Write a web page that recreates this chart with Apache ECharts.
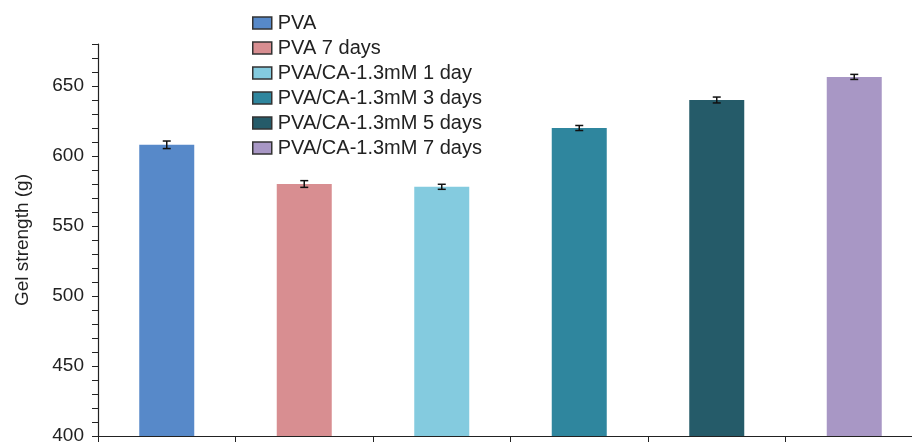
<!DOCTYPE html>
<html>
<head>
<meta charset="utf-8">
<script src="https://cdn.jsdelivr.net/npm/echarts@6/dist/echarts.min.js"></script>
<style>
  html, body { margin: 0; padding: 0; background: #fff; }
  #chart { width: 912px; height: 444px; }
</style>
</head>
<body>
<div id="chart"></div>
<script>
// 数据
var groups = ['PVA', 'PVA 7 days', 'PVA/CA-1.3mM 1 day', 'PVA/CA-1.3mM 3 days', 'PVA/CA-1.3mM 5 days', 'PVA/CA-1.3mM 7 days'];
var strength = [608, 580, 578, 620, 640, 656.5];
var errors = [2.7, 2.4, 1.8, 1.8, 2.1, 1.8];
var colors = ['#5789C9', '#D88E91', '#84CBDF', '#2F869E', '#255B69', '#A897C5'];

var chart = echarts.init(document.getElementById('chart'));

// 每组一个系列，这样图例才有六项
var series = groups.map(function (name, i) {
    return {
        name: name,
        type: 'bar',
        barWidth: 55,
        barGap: '-100%',
        itemStyle: { color: colors[i] },
        data: groups.map(function (g, j) { return j === i ? strength[i] : null; })
    };
});

// 误差线
series.push({
    type: 'custom',
    name: 'err',
    z: 10,
    data: strength.map(function (v, i) { return [i, v - errors[i], v + errors[i]]; }),
    renderItem: function (params, api) {
        var lo = api.coord([api.value(0), api.value(1)]);
        var hi = api.coord([api.value(0), api.value(2)]);
        var hw = 4;
        var st = { stroke: '#111', lineWidth: 1.5 };
        return {
            type: 'group',
            children: [
                { type: 'line', shape: { x1: lo[0], y1: lo[1], x2: hi[0], y2: hi[1] }, style: st },
                { type: 'line', shape: { x1: lo[0] - hw, y1: lo[1], x2: lo[0] + hw, y2: lo[1] }, style: st },
                { type: 'line', shape: { x1: hi[0] - hw, y1: hi[1], x2: hi[0] + hw, y2: hi[1] }, style: st }
            ]
        };
    }
});

var option = {
    animation: false,
    backgroundColor: '#fff',
    textStyle: { fontFamily: 'Liberation Sans, Arial, sans-serif' },
    legend: {
        data: groups,
        orient: 'vertical',
        left: 247,
        top: 8,
        itemWidth: 19,
        itemHeight: 12,
        itemGap: 5,
        icon: 'rect',
        itemStyle: { borderColor: '#333', borderWidth: 1.5 },
        textStyle: { fontSize: 20, color: '#222', lineHeight: 20, padding: [0, 0, 0, 1] }
    },
    // 右边超出画布，和原图一样被裁掉
    grid: { left: 98, top: 44, width: 825, bottom: 8, outerBoundsMode: 'none' },
    xAxis: {
        type: 'category',
        data: groups,
        axisLine: { show: true, lineStyle: { color: '#222', width: 1.2 } },
        axisTick: { show: true, interval: 0, alignWithLabel: false, length: 6, lineStyle: { color: '#222', width: 1 } },
        axisLabel: { show: false }
    },
    yAxis: {
        type: 'value',
        min: 400,
        max: 680,
        interval: 10,
        name: 'Gel strength (g)',
        nameLocation: 'middle',
        nameGap: 66,
        nameTextStyle: { fontSize: 19, color: '#222' },
        axisLine: { show: true, lineStyle: { color: '#222', width: 1.2 } },
        axisTick: { show: true, length: 6, lineStyle: { color: '#222' } },
        axisLabel: {
            fontSize: 19,
            color: '#222',
            margin: 14,
            formatter: function (v) { return v % 50 === 0 ? v : ''; }
        },
        splitLine: { show: false }
    },
    series: series
};

chart.setOption(option);
</script>
</body>
</html>
